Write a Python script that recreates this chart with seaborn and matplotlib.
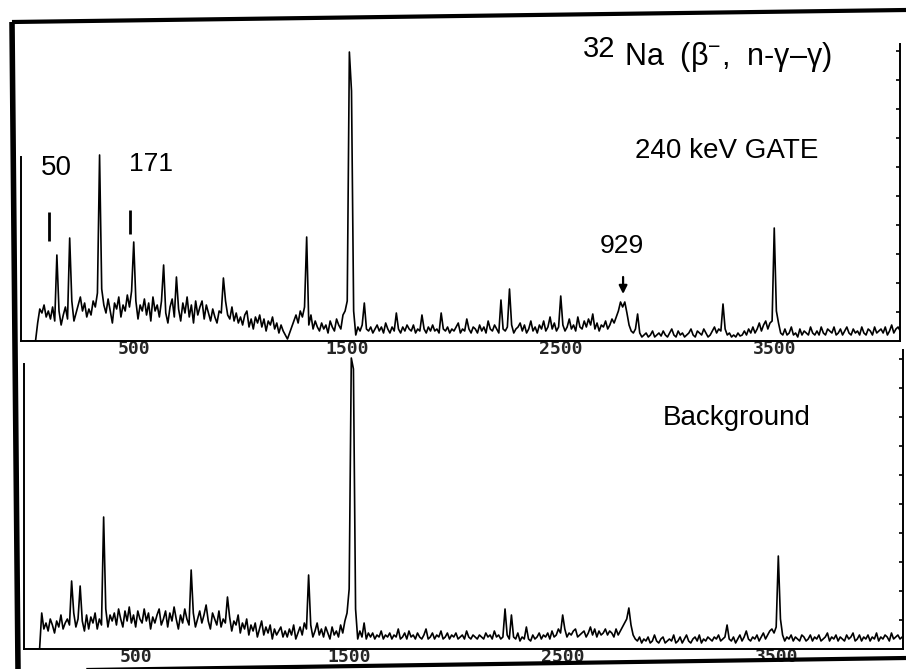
import numpy as np
import matplotlib
matplotlib.use('Agg')
import matplotlib.pyplot as plt
from matplotlib.lines import Line2D
from matplotlib.ticker import FixedLocator
import seaborn as sns

sns.set_style("white")
plt.rcParams['font.family'] = ['Liberation Sans', 'DejaVu Sans']
plt.rcParams['mathtext.fontset'] = 'custom'
plt.rcParams['mathtext.rm'] = 'Liberation Sans'
plt.rcParams['mathtext.it'] = 'Liberation Sans:italic'

# energy bins (keV), 10 keV per channel, 0 - 4090
energy_kev = np.arange(0, 4100, 10)

# counts (one row = 100 keV)
gate_240 = [
    0, 0, 0, 0, 0, 18, 32, 28, 36, 24,
    30, 22, 34, 20, 86, 30, 16, 26, 34, 22,
    103, 40, 20, 28, 36, 44, 30, 38, 24, 32,
    26, 40, 34, 48, 186, 52, 36, 28, 42, 30,
    18, 38, 32, 44, 24, 36, 30, 46, 34, 50,
    99, 40, 22, 36, 30, 42, 26, 38, 20, 44,
    30, 36, 24, 40, 76, 28, 18, 34, 42, 24,
    64, 32, 20, 38, 28, 44, 24, 36, 18, 40,
    26, 34, 40, 22, 36, 28, 20, 32, 24, 18,
    30, 28, 63, 40, 26, 22, 34, 20, 28, 18,
    24, 16, 26, 30, 14, 22, 12, 24, 18, 26,
    14, 22, 10, 20, 16, 24, 12, 18, 8, 16,
    10, 6, 2, 8, 14, 20, 26, 18, 30, 24,
    34, 104, 16, 26, 12, 20, 14, 10, 18, 12,
    16, 8, 20, 14, 10, 22, 16, 12, 26, 30,
    40, 289, 250, 30, 6, 14, 10, 16, 38, 12,
    10, 14, 8, 12, 16, 10, 14, 8, 18, 12,
    8, 14, 10, 28, 12, 8, 14, 10, 16, 12,
    10, 16, 8, 12, 10, 26, 12, 8, 14, 10,
    16, 10, 12, 8, 28, 12, 10, 14, 8, 12,
    10, 14, 18, 8, 12, 10, 22, 12, 8, 14,
    12, 8, 16, 10, 14, 8, 20, 12, 10, 16,
    12, 8, 41, 12, 10, 14, 52, 16, 8, 12,
    14, 18, 10, 16, 8, 12, 20, 10, 14, 8,
    16, 12, 20, 10, 14, 24, 12, 18, 10, 14,
    45, 16, 10, 14, 22, 12, 16, 10, 24, 14,
    12, 20, 14, 22, 16, 27, 12, 18, 10, 16,
    14, 20, 12, 16, 22, 18, 24, 30, 39, 34,
    39, 28, 16, 10, 8, 12, 27, 8, 4, 6,
    8, 4, 6, 10, 4, 6, 8, 5, 10, 6,
    4, 8, 12, 6, 4, 10, 6, 8, 4, 6,
    8, 12, 6, 4, 10, 8, 6, 12, 8, 4,
    6, 10, 14, 8, 12, 10, 37, 12, 6, 8,
    4, 6, 4, 8, 5, 6, 10, 6, 12, 8,
    14, 8, 12, 18, 10, 16, 20, 12, 18, 20,
    113, 30, 18, 8, 6, 12, 6, 8, 14, 6,
    8, 4, 12, 6, 10, 8, 6, 14, 8, 6,
    10, 6, 14, 8, 6, 12, 10, 8, 14, 6,
    8, 12, 6, 10, 14, 8, 6, 12, 8, 10,
    6, 14, 8, 6, 12, 10, 6, 14, 8, 10,
    12, 8, 14, 6, 10, 16, 8, 12, 14, 10,
]

# counts (one row = 100 keV)
background = [
    0, 0, 0, 0, 0, 0, 36, 20, 26, 18,
    30, 24, 16, 28, 22, 34, 20, 26, 30, 24,
    68, 36, 22, 30, 63, 28, 18, 34, 20, 32,
    26, 36, 20, 30, 24, 132, 40, 22, 34, 28,
    36, 24, 40, 30, 22, 38, 28, 42, 26, 34,
    22, 38, 30, 26, 40, 28, 36, 20, 32, 26,
    34, 40, 24, 30, 38, 22, 36, 28, 42, 30,
    20, 34, 26, 40, 30, 24, 79, 36, 22, 30,
    38, 26, 34, 44, 28, 20, 36, 30, 24, 38,
    22, 30, 26, 52, 32, 18, 28, 24, 34, 16,
    26, 20, 30, 14, 24, 18, 26, 12, 20, 28,
    14, 22, 16, 24, 10, 20, 14, 18, 22, 12,
    18, 12, 20, 14, 24, 10, 16, 22, 14, 26,
    20, 74, 24, 12, 18, 26, 14, 20, 12, 22,
    16, 10, 22, 14, 18, 12, 24, 16, 28, 36,
    60, 291, 280, 40, 10, 18, 12, 26, 10, 16,
    12, 16, 10, 14, 12, 18, 10, 14, 12, 16,
    10, 14, 12, 20, 10, 12, 16, 10, 18, 12,
    14, 10, 16, 12, 10, 14, 20, 10, 12, 16,
    10, 14, 12, 18, 10, 12, 16, 10, 14, 12,
    16, 10, 12, 14, 10, 18, 12, 10, 14, 12,
    10, 14, 12, 10, 16, 12, 14, 10, 18, 12,
    14, 10, 12, 40, 14, 10, 34, 12, 10, 16,
    8, 12, 10, 22, 10, 8, 14, 10, 12, 16,
    10, 14, 12, 16, 10, 18, 12, 14, 20, 16,
    34, 20, 12, 16, 14, 18, 20, 12, 14, 16,
    18, 12, 16, 22, 14, 20, 12, 18, 14, 16,
    20, 14, 18, 16, 12, 20, 14, 18, 22, 26,
    30, 41, 24, 14, 10, 8, 12, 6, 10, 8,
    12, 6, 8, 14, 8, 6, 10, 12, 6, 8,
    10, 8, 14, 6, 8, 12, 6, 10, 14, 8,
    6, 10, 12, 8, 14, 6, 10, 8, 12, 10,
    8, 12, 10, 14, 8, 10, 12, 24, 10, 8,
    12, 6, 10, 14, 8, 12, 18, 10, 8, 12,
    10, 14, 8, 12, 16, 10, 14, 18, 20, 16,
    22, 93, 30, 14, 8, 12, 10, 14, 8, 12,
    10, 8, 14, 12, 8, 10, 14, 8, 12, 10,
    14, 8, 10, 12, 16, 8, 12, 10, 14, 8,
    12, 10, 8, 14, 10, 12, 16, 8, 10, 14,
    8, 12, 10, 14, 8, 12, 10, 16, 8, 12,
    10, 14, 12, 8, 16, 10, 12, 14, 10, 12,
]

tick_kev = [500, 1500, 2500, 3500]
minor_kev = [1000, 2000, 3000, 4000]
tick_labels = ['500', '1500', '2500', '3500']

W, H = 906, 669
fig = plt.figure(figsize=(W / 100, H / 100), dpi=100)


def box(x0, y_base, x1, y_top):
    # pixel box (top-left origin) -> figure fraction rect
    return [x0 / W, 1 - y_base / H, (x1 - x0) / W, (y_base - y_top) / H]


ax_top = fig.add_axes(box(21, 341, 900, 16))
ax_bot = fig.add_axes(box(24, 649, 903, 350))

panels = [
    (ax_top, gate_240, (-28, 4089), 325, 184, 297),
    (ax_bot, background, (-23, 4094), 299, 285, 299),
]

for ax, counts, xlim, ytop, left_top, right_top in panels:
    ax.patch.set_alpha(0)
    sns.lineplot(x=energy_kev, y=counts, ax=ax, color='black', lw=1.2)
    ax.set_xlim(*xlim)
    ax.set_ylim(0, ytop)
    ax.set_xlabel('')
    ax.set_ylabel('')
    ax.spines['top'].set_visible(False)
    for s in ['left', 'right', 'bottom']:
        ax.spines[s].set_linewidth(1.4)
        ax.spines[s].set_color('black')
    ax.spines['left'].set_bounds(0, left_top)
    ax.spines['right'].set_bounds(0, right_top)

    ax.set_xticks(tick_kev)
    ax.set_xticklabels(tick_labels, fontfamily='DejaVu Sans Mono',
                       fontweight='bold', fontsize=13)
    ax.xaxis.set_minor_locator(FixedLocator(minor_kev))
    ax.tick_params(axis='x', which='major', length=0, pad=-1)
    ax.tick_params(axis='x', which='minor', length=5, width=1.5,
                   direction='inout', color='black')

    ax.yaxis.tick_right()
    ax.yaxis.set_major_locator(FixedLocator(list(range(29, right_top, 29))))
    ax.tick_params(axis='y', which='major', length=3, width=1.2,
                   direction='in', labelright=False, labelleft=False,
                   color='black')

# labels on the gated spectrum
ax_top.vlines([103, 482], [100, 107], [129, 131], color='black', lw=2)
ax_top.annotate('', xy=(2792, 47), xytext=(2792, 64),
                arrowprops=dict(arrowstyle='-|>', color='black', lw=1.6,
                                mutation_scale=12, shrinkA=0, shrinkB=0))


def ptext(x, y, s, size, **kw):
    fig.text(x / W, 1 - y / H, s, fontsize=size, ha='left', va='baseline',
             color='black', **kw)


ptext(583, 57, '32', 21)
ptext(624, 65, 'Na  (β$^{-}$,  n-γ–γ)', 22)
ptext(635, 158, '240 keV GATE', 20)
ptext(41, 175, '50', 20)
ptext(129, 171, '171', 19)
ptext(600, 253, '929', 19)
ptext(663, 425, 'Background', 20)

# outer frame of the scanned figure
frame = [
    ([12, 906], [22, 10], 3.0),
    ([12, 18], [22, 669], 4.0),
    ([18, 906], [671, 658], 3.0),
]
for xs, ys, lw in frame:
    fig.add_artist(Line2D([x / W for x in xs], [1 - y / H for y in ys],
                          transform=fig.transFigure, color='black', lw=lw,
                          solid_capstyle='butt'))

fig.savefig('out.png', dpi=100)
